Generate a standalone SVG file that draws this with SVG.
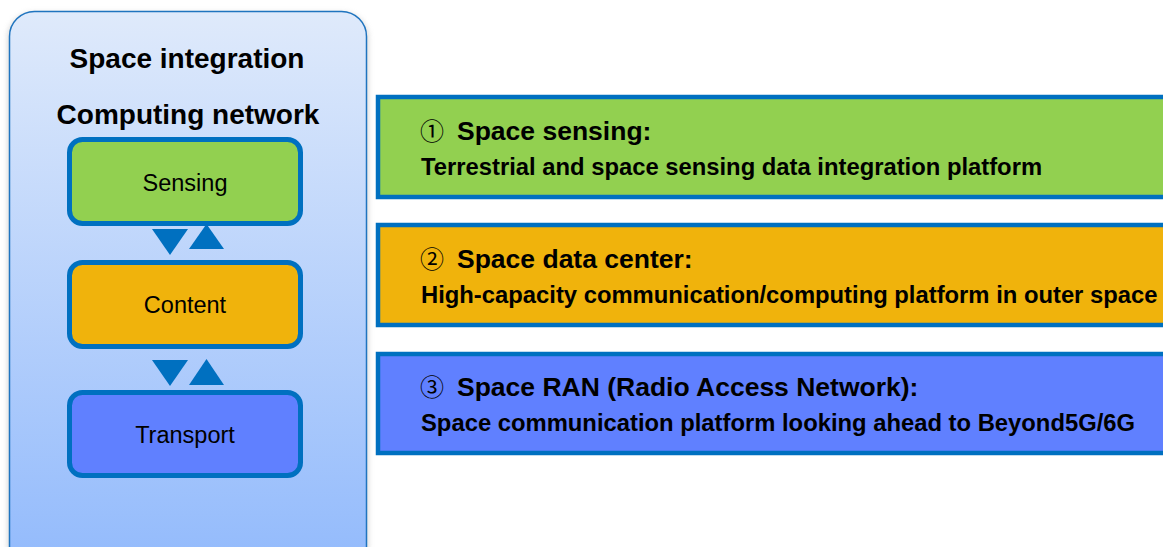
<svg xmlns="http://www.w3.org/2000/svg" width="1163" height="547" viewBox="0 0 1163 547">
  <defs>
    <linearGradient id="panelFill" x1="0" y1="0" x2="0" y2="1">
      <stop offset="0" stop-color="#dfeafb"/>
      <stop offset="1" stop-color="#92bafc"/>
    </linearGradient>
    <filter id="softShadow" x="-10%" y="-10%" width="120%" height="120%">
      <feGaussianBlur stdDeviation="2.5"/>
    </filter>
  </defs>
  <style>
    .layer { stroke: #0070c0; stroke-width: 5; }
    .band { stroke: #0070c0; stroke-width: 4.5; }
    .green { fill: #92d050; }
    .orange { fill: #f0b30c; }
    .blue { fill: #6080ff; }
    .title { font-family: "Liberation Sans", Arial, sans-serif; font-weight: bold; font-size: 28px; fill: #000; text-anchor: middle; }
    .label { font-family: "Liberation Sans", Arial, sans-serif; font-size: 23.5px; fill: #000; text-anchor: middle; }
    .head { font-family: "Liberation Sans", Arial, sans-serif; font-weight: bold; font-size: 26.5px; fill: #000; }
    .num { font-family: "Noto Sans CJK JP", "DejaVu Sans", sans-serif; font-weight: normal; font-size: 24px; }
    .desc { font-family: "Liberation Sans", Arial, sans-serif; font-weight: bold; font-size: 23.8px; fill: #000; }
    .tri { fill: #0070c0; }
  </style>

  <rect width="1163" height="547" fill="#ffffff"/>

  <!-- outer container -->
  <g id="panel">
    <rect x="7" y="12" width="362" height="560" rx="26" fill="#c8c8c8" filter="url(#softShadow)" opacity="0.6"/>
    <rect x="9.5" y="11.5" width="357" height="560" rx="25" fill="url(#panelFill)" stroke="#1f74bf" stroke-width="1.5"/>
    <text class="title" x="187" y="68">Space integration</text>
    <text class="title" x="188" y="124">Computing network</text>
  </g>

  <!-- layer stack -->
  <g id="sensing">
    <rect class="layer green" x="69.5" y="139.5" width="231" height="84" rx="13"/>
    <text class="label" x="185" y="191">Sensing</text>
  </g>
  <g id="content">
    <rect class="layer orange" x="69.5" y="262.5" width="231" height="84" rx="13"/>
    <text class="label" x="185" y="313">Content</text>
  </g>
  <g id="transport">
    <rect class="layer blue" x="69.5" y="392.5" width="231" height="83" rx="13"/>
    <text class="label" x="185" y="443">Transport</text>
  </g>

  <!-- up/down links between layers -->
  <g id="connectors">
    <polygon class="tri" points="152,229 188,229 170,255"/>
    <polygon class="tri" points="189,249 224,249 206.5,224"/>
    <polygon class="tri" points="152,360 188,360 170,386"/>
    <polygon class="tri" points="189,385 224,385 206.5,359"/>
  </g>

  <!-- descriptions -->
  <g id="space-sensing">
    <rect class="band green" x="378" y="97" width="800" height="100"/>
    <text class="head" x="420" y="140"><tspan class="num">①</tspan><tspan x="457">Space sensing:</tspan></text>
    <text class="desc" x="421" y="175">Terrestrial and space sensing data integration platform</text>
  </g>
  <g id="space-data-center">
    <rect class="band orange" x="378" y="225" width="800" height="100"/>
    <text class="head" x="420" y="268"><tspan class="num">②</tspan><tspan x="457">Space data center:</tspan></text>
    <text class="desc" x="421" y="303">High-capacity communication/computing platform in outer space</text>
  </g>
  <g id="space-ran">
    <rect class="band blue" x="378" y="354" width="800" height="99"/>
    <text class="head" x="420" y="396"><tspan class="num">③</tspan><tspan x="457">Space RAN (Radio Access Network):</tspan></text>
    <text class="desc" x="421" y="431">Space communication platform looking ahead to Beyond5G/6G</text>
  </g>
</svg>
